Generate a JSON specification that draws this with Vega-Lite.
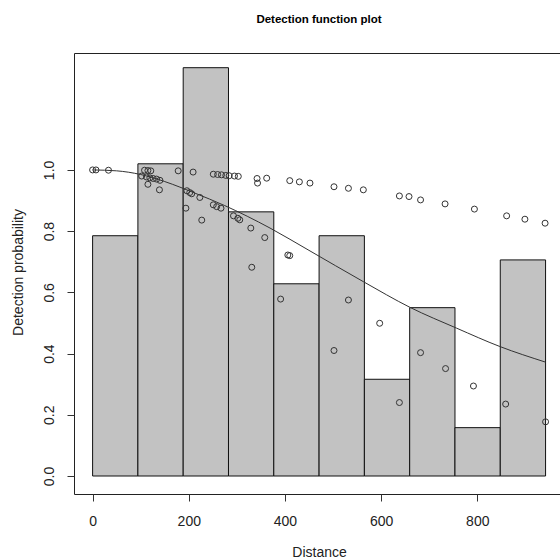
{
  "$schema": "https://vega.github.io/schema/vega-lite/v6.json",
  "width": 486,
  "height": 441,
  "autosize": {"type": "none"},
  "padding": {"left": 74, "top": 53, "right": 0, "bottom": 65},
  "background": "white",
  "title": {
    "text": "Detection function plot",
    "anchor": "middle",
    "frame": "group",
    "fontSize": 11.5,
    "fontWeight": "bold",
    "font": "Liberation Sans",
    "color": "#000",
    "baseline": "alphabetic",
    "offset": 19,
    "dx": 2
  },
  "config": {
    "view": {"stroke": "#222", "strokeWidth": 1},
    "font": "Liberation Sans",
    "axis": {
      "grid": false,
      "domain": false,
      "tickSize": 7,
      "tickColor": "#333",
      "labelFont": "Liberation Sans",
      "labelFontSize": 14,
      "labelColor": "#222",
      "titleFont": "Liberation Sans",
      "titleFontSize": 14,
      "titleFontWeight": "normal",
      "titleColor": "#222",
      "labelPadding": 13
    },
    "axisX": {"titleX": 245, "titleY": 62, "titleAlign": "center", "titleBaseline": "alphabetic", "labelBaseline": "top"},
    "axisY": {"labelAngle": 270, "labelAlign": "center", "labelBaseline": "alphabetic", "labelPadding": 14, "titleAngle": 270, "titleX": -52, "titleY": 219, "titleAlign": "center", "titleBaseline": "alphabetic"}
  },
  "datasets": {
    "bars": [
      {"x0": 0, "x1": 94.2, "y": 0.785},
      {"x0": 94.2, "x1": 188.4, "y": 1.02},
      {"x0": 188.4, "x1": 282.6, "y": 1.334},
      {"x0": 282.6, "x1": 376.8, "y": 0.863},
      {"x0": 376.8, "x1": 471, "y": 0.628},
      {"x0": 471, "x1": 565.2, "y": 0.785},
      {"x0": 565.2, "x1": 659.4, "y": 0.316},
      {"x0": 659.4, "x1": 753.6, "y": 0.55},
      {"x0": 753.6, "x1": 847.8, "y": 0.158},
      {"x0": 847.8, "x1": 942, "y": 0.706}
    ],
    "curve": [
      {"x": 0, "y": 1.0},
      {"x": 50, "y": 0.997},
      {"x": 100, "y": 0.985},
      {"x": 150, "y": 0.962},
      {"x": 213, "y": 0.924},
      {"x": 274, "y": 0.884},
      {"x": 369, "y": 0.81},
      {"x": 448, "y": 0.739},
      {"x": 563, "y": 0.635},
      {"x": 660, "y": 0.551},
      {"x": 757, "y": 0.483},
      {"x": 847, "y": 0.423},
      {"x": 942, "y": 0.372}
    ],
    "points": [
      {"x": 0, "y": 1.0}, {"x": 7, "y": 1.0}, {"x": 33, "y": 0.999},
      {"x": 102, "y": 0.98}, {"x": 108, "y": 0.999}, {"x": 112, "y": 0.977},
      {"x": 115, "y": 0.998}, {"x": 115, "y": 0.953}, {"x": 119, "y": 0.974},
      {"x": 121, "y": 0.997}, {"x": 126, "y": 0.972}, {"x": 133, "y": 0.97},
      {"x": 139, "y": 0.935}, {"x": 140, "y": 0.966}, {"x": 178, "y": 0.997},
      {"x": 194, "y": 0.875}, {"x": 196, "y": 0.932}, {"x": 202, "y": 0.926},
      {"x": 206, "y": 0.922}, {"x": 209, "y": 0.993}, {"x": 223, "y": 0.91},
      {"x": 227, "y": 0.836}, {"x": 251, "y": 0.986}, {"x": 251, "y": 0.886},
      {"x": 258, "y": 0.88}, {"x": 260, "y": 0.985}, {"x": 267, "y": 0.875},
      {"x": 268, "y": 0.984}, {"x": 277, "y": 0.982}, {"x": 284, "y": 0.981},
      {"x": 293, "y": 0.85}, {"x": 295, "y": 0.98}, {"x": 302, "y": 0.842},
      {"x": 303, "y": 0.979}, {"x": 306, "y": 0.837}, {"x": 329, "y": 0.81},
      {"x": 331, "y": 0.682}, {"x": 342, "y": 0.972}, {"x": 343, "y": 0.957},
      {"x": 358, "y": 0.779}, {"x": 362, "y": 0.973}, {"x": 391, "y": 0.578},
      {"x": 406, "y": 0.722}, {"x": 410, "y": 0.72}, {"x": 410, "y": 0.965},
      {"x": 430, "y": 0.961}, {"x": 452, "y": 0.957}, {"x": 502, "y": 0.945},
      {"x": 502, "y": 0.41}, {"x": 532, "y": 0.94}, {"x": 532, "y": 0.575},
      {"x": 563, "y": 0.935}, {"x": 597, "y": 0.499}, {"x": 638, "y": 0.915},
      {"x": 638, "y": 0.24}, {"x": 658, "y": 0.913}, {"x": 682, "y": 0.902},
      {"x": 682, "y": 0.403}, {"x": 733, "y": 0.889}, {"x": 734, "y": 0.351},
      {"x": 792, "y": 0.294}, {"x": 794, "y": 0.872}, {"x": 859, "y": 0.235},
      {"x": 861, "y": 0.85}, {"x": 899, "y": 0.839}, {"x": 941, "y": 0.826},
      {"x": 942, "y": 0.177}
    ]
  },
  "layer": [
    {
      "data": {"name": "bars"},
      "mark": {"type": "rect", "fill": "#c2c2c2", "stroke": "#111", "strokeWidth": 1},
      "encoding": {
        "x": {"field": "x0", "type": "quantitative", "scale": {"domain": [-38.7, 972], "nice": false, "zero": false}, "axis": {"values": [0, 200, 400, 600, 800], "title": "Distance"}},
        "x2": {"field": "x1"},
        "y": {"field": "y", "type": "quantitative", "scale": {"domain": [-0.0588, 1.382], "nice": false, "zero": false}, "axis": {"values": [0, 0.2, 0.4, 0.6, 0.8, 1.0], "format": ".1f", "title": "Detection probability"}},
        "y2": {"datum": 0}
      }
    },
    {
      "data": {"name": "curve"},
      "mark": {"type": "line", "stroke": "#333", "strokeWidth": 1, "interpolate": "monotone", "clip": true},
      "encoding": {
        "x": {"field": "x", "type": "quantitative", "axis": {"values": [0, 200, 400, 600, 800], "title": "Distance"}},
        "y": {"field": "y", "type": "quantitative", "axis": {"values": [0, 0.2, 0.4, 0.6, 0.8, 1.0], "format": ".1f", "title": "Detection probability"}}
      }
    },
    {
      "data": {"name": "points"},
      "mark": {"type": "point", "shape": "circle", "filled": false, "stroke": "#333", "strokeWidth": 1, "size": 36, "opacity": 1},
      "encoding": {
        "x": {"field": "x", "type": "quantitative", "axis": {"values": [0, 200, 400, 600, 800], "title": "Distance"}},
        "y": {"field": "y", "type": "quantitative", "axis": {"values": [0, 0.2, 0.4, 0.6, 0.8, 1.0], "format": ".1f", "title": "Detection probability"}}
      }
    }
  ]
}
